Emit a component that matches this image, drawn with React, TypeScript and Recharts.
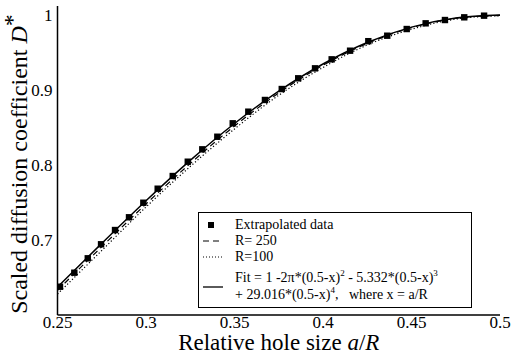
import {
  ComposedChart,
  Line,
  Scatter,
  XAxis,
  YAxis,
  Legend,
} from 'recharts'

// extrapolated data points
const dataX = [
  0.2514, 0.2595, 0.2671, 0.2746, 0.2825, 0.2904, 0.2985, 0.3066, 0.3151,
  0.3236, 0.3318, 0.3403, 0.349, 0.3578, 0.3672, 0.3767, 0.386, 0.3955,
  0.4049, 0.4153, 0.4256, 0.4363, 0.4473, 0.458, 0.4689, 0.4798, 0.491,
]
const dataY = [
  0.6377, 0.6564, 0.6756, 0.6943, 0.7133, 0.7303, 0.7497, 0.7684, 0.7853,
  0.8044, 0.8209, 0.8377, 0.8556, 0.8711, 0.8867, 0.9013, 0.9156, 0.9289,
  0.9409, 0.9524, 0.9651, 0.9724, 0.9813, 0.9889, 0.9933, 0.9969, 0.9991,
]

// curves
const curveX = [0.25, 0.275, 0.3, 0.325, 0.35, 0.375, 0.4, 0.425, 0.45, 0.475, 0.5]
const fitY = [0.6373, 0.6955, 0.7524, 0.8062, 0.8553, 0.8985, 0.9347, 0.9633, 0.9838, 0.996, 1.0]
const r250Y = [0.633, 0.691, 0.748, 0.802, 0.852, 0.896, 0.933, 0.962, 0.983, 0.9955, 0.9995]
const r100Y = [0.628, 0.686, 0.744, 0.798, 0.848, 0.893, 0.930, 0.960, 0.981, 0.9945, 0.999]

const xMajor = [0.25, 0.3, 0.35, 0.4, 0.45, 0.5]
const xMinor = [0.275, 0.325, 0.375, 0.425, 0.475]
const yMajor = [0.7, 0.8, 0.9, 1]
const yMinor = [0.65, 0.75, 0.85, 0.95]

const points = dataX.map((x, i) => ({ x, y: dataY[i] }))
const toSeries = (ys: number[]) => curveX.map((x, i) => ({ x, y: ys[i] }))

const FONT = "'Liberation Serif', 'DejaVu Serif', serif"
const X_DOMAIN: [number, number] = [0.25, 0.5]
const Y_DOMAIN: [number, number] = [0.6, 1.012]

const Square = (props: any) => (
  <rect x={props.cx - 3.2} y={props.cy - 3.2} width={6.4} height={6.4} fill="#000" />
)

const sup = { fontSize: 9, position: 'relative' as const, top: -6 }

const LegendSymbol = ({ kind }: { kind: string }) => (
  <svg width={36} height={16} style={{ flex: 'none' }}>
    {kind === 'square' && <rect x={9} y={5} width={6} height={6} fill="#000" />}
    {kind === 'dash' && <line x1={4} x2={24} y1={8} y2={8} stroke="#000" strokeDasharray="6 4" />}
    {kind === 'dot' && <line x1={4} x2={24} y1={8} y2={8} stroke="#000" strokeDasharray="1 2" />}
    {kind === 'solid' && <line x1={4} x2={24} y1={8} y2={8} stroke="#000" strokeWidth={1.3} />}
  </svg>
)

const legendKinds: Record<string, string> = {
  'Extrapolated data': 'square',
  'R= 250': 'dash',
  'R=100': 'dot',
  Fit: 'solid',
}
const legendOrder = ['Extrapolated data', 'R= 250', 'R=100', 'Fit']

const LegendBox = (props: any) => {
  const items = [...(props.payload ?? [])].sort(
    (a: any, b: any) => legendOrder.indexOf(a.value) - legendOrder.indexOf(b.value)
  )
  return (
    <div
      style={{
        border: '1px solid #000',
        background: '#fff',
        fontFamily: FONT,
        fontSize: 14,
        lineHeight: '16px',
        color: '#000',
        width: 272,
        padding: '4px 0 3px 0',
        boxSizing: 'content-box',
      }}
    >
      {items.map((it: any) =>
        it.value === 'Fit' ? (
          <div key={it.value} style={{ display: 'flex', alignItems: 'center', marginTop: 5 }}>
            <LegendSymbol kind="solid" />
            <div style={{ whiteSpace: 'nowrap' }}>
              <div>
                Fit = 1 -2π*(0.5-x)<span style={sup}>2</span> - 5.332*(0.5-x)<span style={sup}>3</span>
              </div>
              <div>
                + 29.016*(0.5-x)<span style={sup}>4</span>,&nbsp;&nbsp; where x = a/R
              </div>
            </div>
          </div>
        ) : (
          <div key={it.value} style={{ display: 'flex', alignItems: 'center' }}>
            <LegendSymbol kind={legendKinds[it.value]} />
            <span style={{ whiteSpace: 'nowrap' }}>{it.value}</span>
          </div>
        )
      )}
    </div>
  )
}

const tickStyle = { fontFamily: FONT, fontSize: 17, fill: '#000' }
const axisLine = { stroke: '#000', strokeWidth: 1.5 }
const tickLine = { stroke: '#000', strokeWidth: 1.2 }

const App = () => {
  return (
    <div style={{ position: 'absolute', left: 0, top: 0, fontFamily: FONT }}>
      <style>{`.recharts-wrapper text, .recharts-wrapper tspan, .recharts-legend-wrapper { font-family: ${FONT}; }`}</style>
      <ComposedChart
        width={514}
        height={355}
        margin={{ top: 6, right: 14, left: 0, bottom: 0 }}
        style={{ background: '#fff', fontFamily: FONT }}
      >
        {/* labelled axes */}
        <XAxis
          xAxisId="b"
          dataKey="x"
          type="number"
          domain={X_DOMAIN}
          ticks={xMajor}
          allowDataOverflow
          height={40}
          tick={tickStyle}
          tickLine={false}
          tickSize={0}
          tickMargin={1}
          axisLine={axisLine}
          label={{
            position: 'insideBottom',
            content: ({ viewBox }: any) => (
              <text
                x={viewBox.x + viewBox.width / 2}
                y={350}
                textAnchor="middle"
                fontFamily={FONT}
                fontSize={23}
                fill="#000"
              >
                Relative hole size <tspan fontStyle="italic">a</tspan>/<tspan fontStyle="italic">R</tspan>
              </text>
            ),
          }}
        />
        <YAxis
          yAxisId="l"
          type="number"
          domain={Y_DOMAIN}
          ticks={yMajor}
          allowDataOverflow
          width={57.5}
          tick={tickStyle}
          tickLine={false}
          tickSize={0}
          tickMargin={5}
          axisLine={axisLine}
          label={{
            position: 'insideLeft',
            content: () => (
              <text
                x={27}
                y={164}
                transform="rotate(-90 27 164)"
                textAnchor="middle"
                fontFamily={FONT}
                fontSize={24}
                fill="#000"
              >
                Scaled diffusion coefficient <tspan fontStyle="italic">D</tspan>
                <tspan dy={-7}>*</tspan>
              </text>
            ),
          }}
        />

        {/* inward tick marks on all four sides */}
        <XAxis xAxisId="bMaj" type="number" domain={X_DOMAIN} ticks={xMajor} mirror height={0} tick={false} tickSize={8} tickLine={tickLine} axisLine={false} />
        <XAxis xAxisId="bMin" type="number" domain={X_DOMAIN} ticks={xMinor} mirror height={0} tick={false} tickSize={4} tickLine={tickLine} axisLine={false} />
        <XAxis xAxisId="tMaj" orientation="top" type="number" domain={X_DOMAIN} ticks={xMajor} mirror height={0} tick={false} tickSize={8} tickLine={tickLine} axisLine={axisLine} />
        <XAxis xAxisId="tMin" orientation="top" type="number" domain={X_DOMAIN} ticks={xMinor} mirror height={0} tick={false} tickSize={4} tickLine={tickLine} axisLine={false} />
        <YAxis yAxisId="lMaj" type="number" domain={Y_DOMAIN} ticks={yMajor} mirror width={0} tick={false} tickSize={8} tickLine={tickLine} axisLine={false} />
        <YAxis yAxisId="lMin" type="number" domain={Y_DOMAIN} ticks={yMinor} mirror width={0} tick={false} tickSize={4} tickLine={tickLine} axisLine={false} />
        <YAxis yAxisId="rMaj" orientation="right" type="number" domain={Y_DOMAIN} ticks={yMajor} mirror width={0} tick={false} tickSize={8} tickLine={tickLine} axisLine={axisLine} />
        <YAxis yAxisId="rMin" orientation="right" type="number" domain={Y_DOMAIN} ticks={yMinor} mirror width={0} tick={false} tickSize={4} tickLine={tickLine} axisLine={false} />

        <Line
          xAxisId="b"
          yAxisId="l"
          data={toSeries(r100Y)}
          dataKey="y"
          name="R=100"
          type="monotone"
          stroke="#000"
          strokeWidth={1.2}
          strokeDasharray="1.2 2.2"
          dot={false}
          isAnimationActive={false}
        />
        <Line
          xAxisId="b"
          yAxisId="l"
          data={toSeries(r250Y)}
          dataKey="y"
          name="R= 250"
          type="monotone"
          stroke="#000"
          strokeWidth={1.2}
          strokeDasharray="6 4"
          dot={false}
          isAnimationActive={false}
        />
        <Line
          xAxisId="b"
          yAxisId="l"
          data={toSeries(fitY)}
          dataKey="y"
          name="Fit"
          type="monotone"
          stroke="#000"
          strokeWidth={1.5}
          dot={false}
          isAnimationActive={false}
        />
        <Scatter
          xAxisId="b"
          yAxisId="l"
          data={points}
          dataKey="y"
          name="Extrapolated data"
          fill="#000"
          shape={Square}
          isAnimationActive={false}
        />

        <Legend
          layout="vertical"
          align="center"
          verticalAlign="middle"
          content={LegendBox}
          wrapperStyle={{ left: 198, top: 212, width: 274 }}
        />
      </ComposedChart>
    </div>
  )
}

export default App
